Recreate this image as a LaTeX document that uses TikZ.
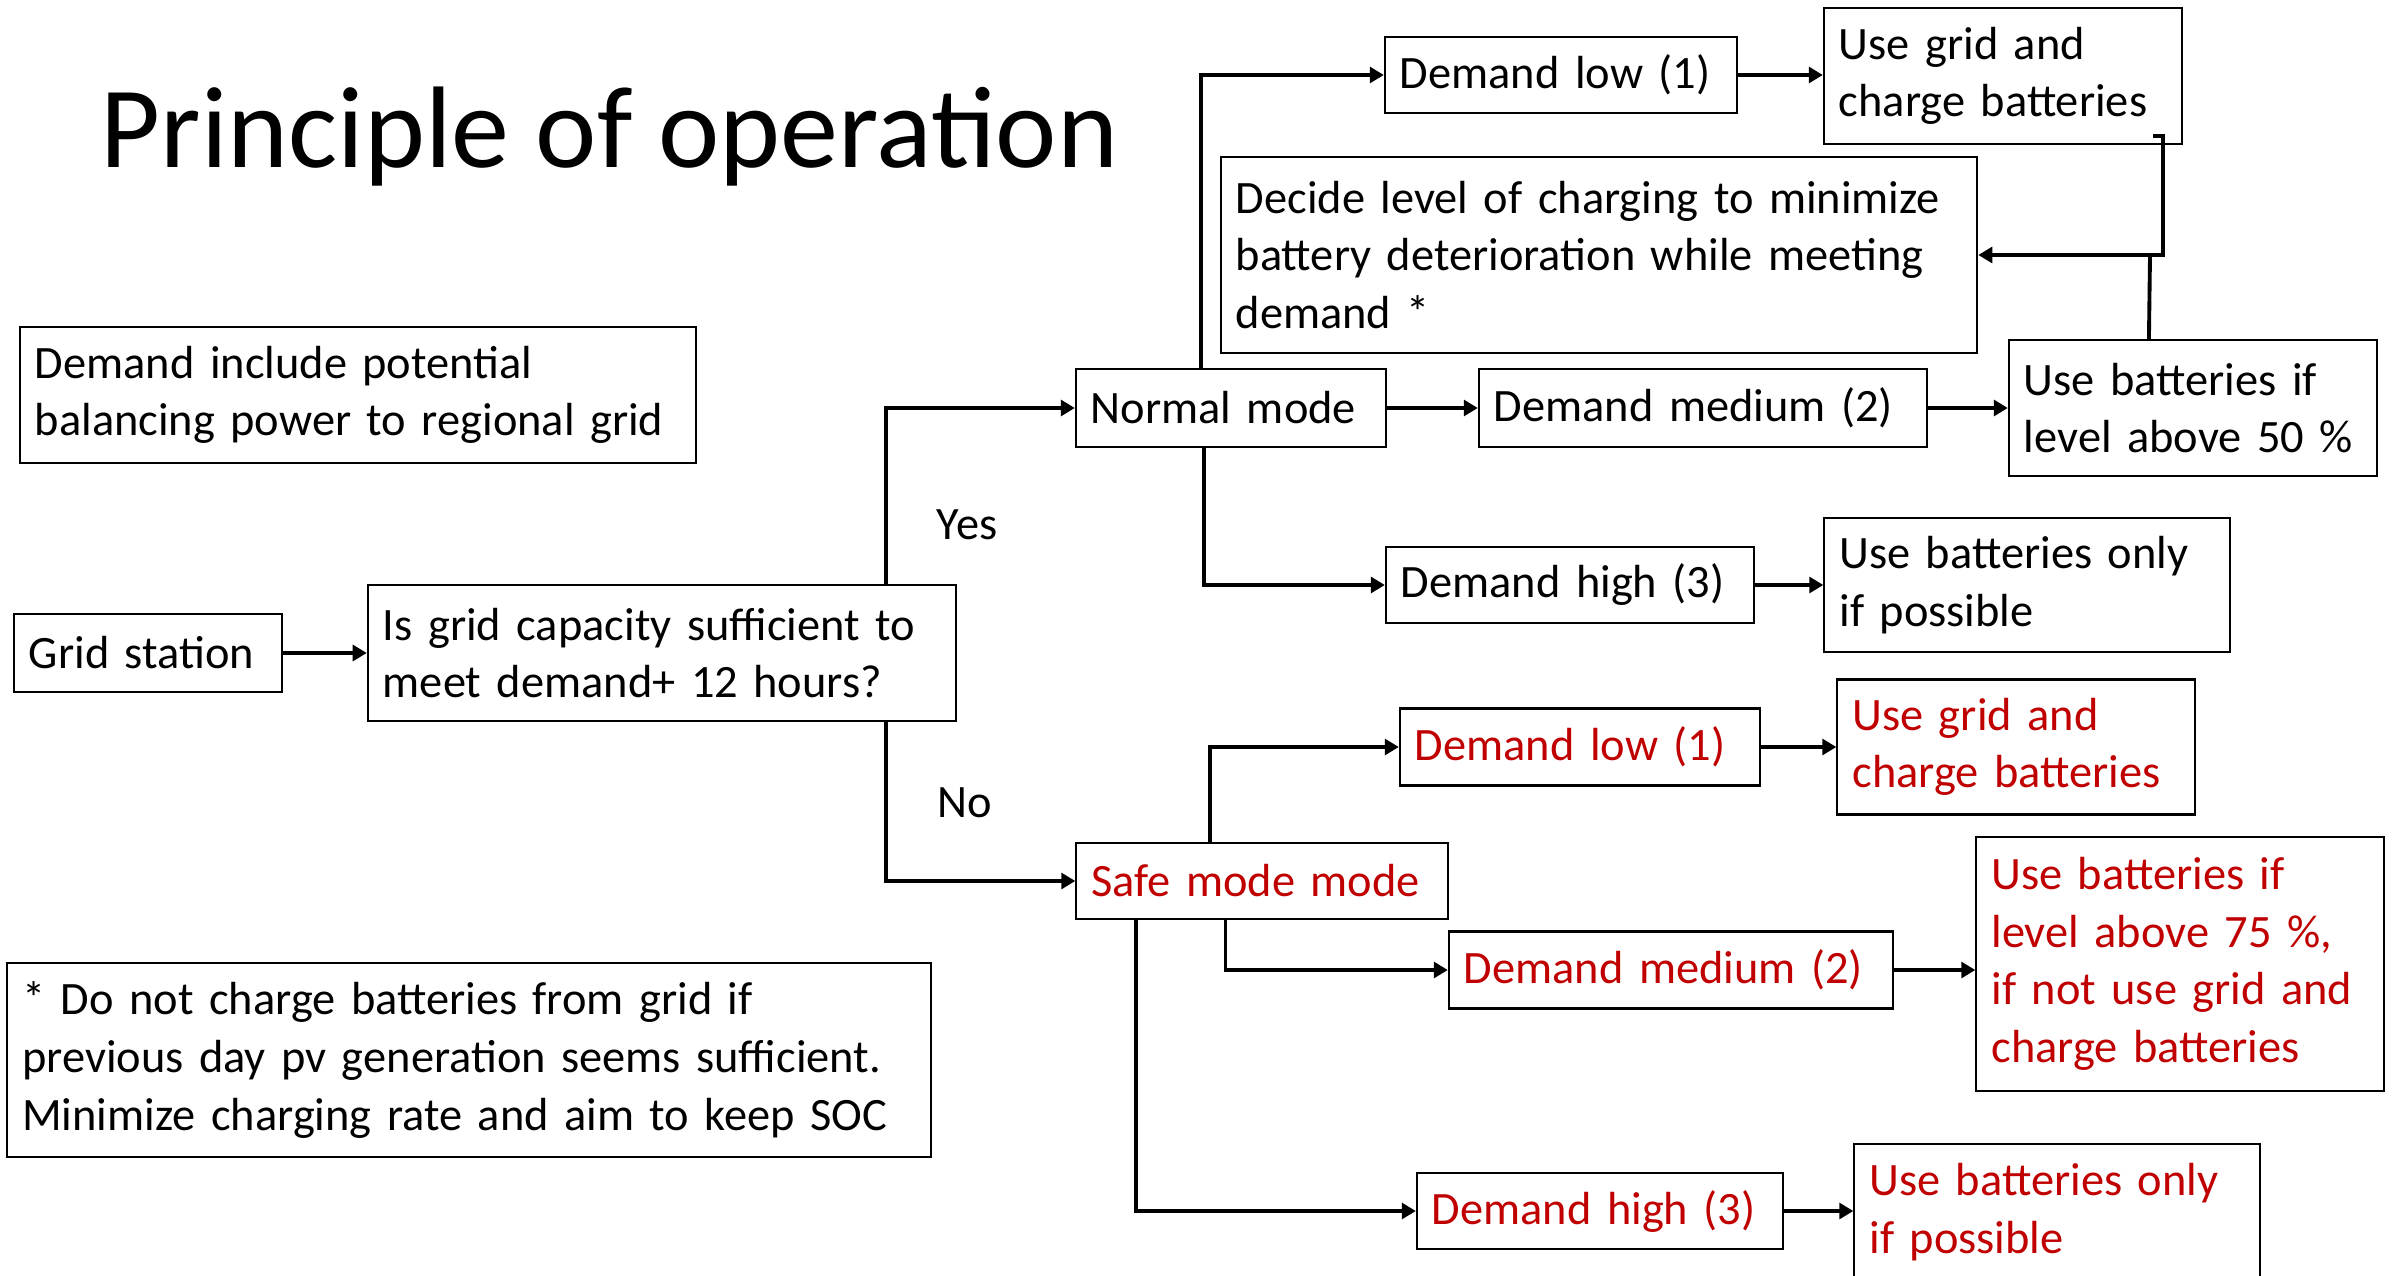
\documentclass[tikz,border=0pt]{standalone}
\usepackage{fontspec}
\setmainfont{Carlito}
\usepackage{tikz}
\usetikzlibrary{arrows.meta}

\definecolor{darkred}{RGB}{192,0,0}
\newcommand{\boxfont}{\fontsize{13.2pt}{16.4pt}\selectfont}
\newcommand{\titlefont}{\fontsize{33pt}{38pt}\selectfont}

\tikzset{
  box/.style={draw, line width=0.6pt, align=left, inner xsep=0.15cm, inner ysep=0pt, font=\boxfont},
  redbox/.style={box, text=darkred},
  wire/.style={line width=1.1pt},
  conn/.style={wire, -{Triangle[length=4pt,width=4.5pt]}},
}

\begin{document}
\begin{tikzpicture}[x=0.01cm, y=-0.01cm]
      \useasboundingbox (0,0) rectangle (2394,1276);
      \node[anchor=base west, inner sep=0pt, font=\titlefont] (title) at (100,168) {Principle of operation};
      % notes on the left
      \node[box, minimum width=6.76cm, minimum height=1.36cm, text width=6.46cm] (note) at (358,395) {Demand include potential\\balancing power to regional grid};
      \node[box, minimum width=9.23cm, minimum height=1.94cm, text width=8.93cm] (star) at (469,1060) {* Do not charge batteries from grid if\\previous day pv generation seems sufficient.\\Minimize charging rate and aim to keep SOC};
      % decision
      \node[box, minimum width=2.68cm, minimum height=0.78cm, text width=2.38cm] (gs) at (148,653) {Grid station};
      \node[box, minimum width=5.88cm, minimum height=1.36cm, text width=5.58cm] (q) at (662,653) {Is grid capacity sufficient to\\meet demand+ 12 hours?};
      \node[font=\boxfont] (yes) at (967,525) {Yes};
      \node[font=\boxfont] (no) at (965,803) {No};
      % normal mode
      \node[box, minimum width=3.10cm, minimum height=0.78cm, text width=2.80cm] (normal) at (1231,408) {Normal mode};
      \node[box, minimum width=3.52cm, minimum height=0.76cm, text width=3.22cm] (low) at (1561,75) {Demand low (1)};
      \node[box, minimum width=3.58cm, minimum height=1.36cm, text width=3.28cm] (grid1) at (2003,76) {Use grid and\\charge batteries};
      \node[box, minimum width=7.56cm, minimum height=1.96cm, text width=7.26cm] (decide) at (1599,255) {Decide level of charging to minimize\\battery deterioration while meeting\\demand *};
      \node[box, minimum width=4.48cm, minimum height=0.78cm, text width=4.18cm] (medium) at (1703,408) {Demand medium (2)};
      \node[box, minimum width=3.68cm, minimum height=1.36cm, text width=3.38cm] (bat50) at (2193,408) {Use batteries if\\level above 50 \%};
      \node[box, minimum width=3.68cm, minimum height=0.76cm, text width=3.38cm] (high) at (1570,585) {Demand high (3)};
      \node[box, minimum width=4.05cm, minimum height=1.34cm, text width=3.75cm] (only1) at (2027,585) {Use batteries only\\if possible};
      % safe mode
      \node[redbox, minimum width=3.71cm, minimum height=0.76cm, text width=3.41cm] (safe) at (1262,881) {Safe mode mode};
      \node[redbox, minimum width=3.60cm, minimum height=0.77cm, text width=3.30cm] (rlow) at (1580,747) {Demand low (1)};
      \node[redbox, minimum width=3.57cm, minimum height=1.35cm, text width=3.27cm] (rgrid) at (2016,747) {Use grid and\\charge batteries};
      \node[redbox, minimum width=4.44cm, minimum height=0.77cm, text width=4.14cm] (rmed) at (1671,970) {Demand medium (2)};
      \node[redbox, minimum width=4.07cm, minimum height=2.53cm, text width=3.77cm] (bat75) at (2180,964) {Use batteries if\\level above 75 \%,\\if not use grid and\\charge batteries};
      \node[redbox, minimum width=3.66cm, minimum height=0.76cm, text width=3.36cm] (rhigh) at (1600,1211) {Demand high (3)};
      \node[redbox, minimum width=4.05cm, minimum height=1.36cm, text width=3.75cm] (ronly) at (2057,1212) {Use batteries only\\if possible};
      % connectors
      \draw[conn] (gs.east) -- (gs.east -| q.west);
      \draw[conn] ([xshift=5.19cm]q.north west) |- (normal.west);
      \draw[conn] ([xshift=5.19cm]q.south west) |- (safe.west);
      \draw[conn] ([xshift=1.26cm]normal.north west) |- (low.west);
      \draw[conn] (normal.east) -- (normal.east -| medium.west);
      \draw[conn] ([xshift=1.29cm]normal.south west) |- (high.west);
      \draw[conn] (low.east) -- (low.east -| grid1.west);
      \draw[conn] (medium.east) -- (bat50.west);
      \draw[conn] (high.east) -- (high.east -| only1.west);
      \coordinate (j1) at (2153,136);
      \coordinate (j2) at (2163,255);
      \draw[conn] (j1) -| (j2) -- (j2 -| decide.east);
      \draw[wire] ([xshift=1.41cm]bat50.north west) -- (2150,255);
      \draw[conn] ([xshift=1.35cm]safe.north west) |- (rlow.west);
      \draw[conn] (rlow.east) -- (rlow.east -| rgrid.west);
      \draw[conn] ([xshift=1.50cm]safe.south west) |- (rmed.west);
      \draw[conn] (rmed.east) -- (rmed.east -| bat75.west);
      \draw[conn] ([xshift=0.61cm]safe.south west) |- (rhigh.west);
      \draw[conn] (rhigh.east) -- (rhigh.east -| ronly.west);
\end{tikzpicture}
\end{document}
